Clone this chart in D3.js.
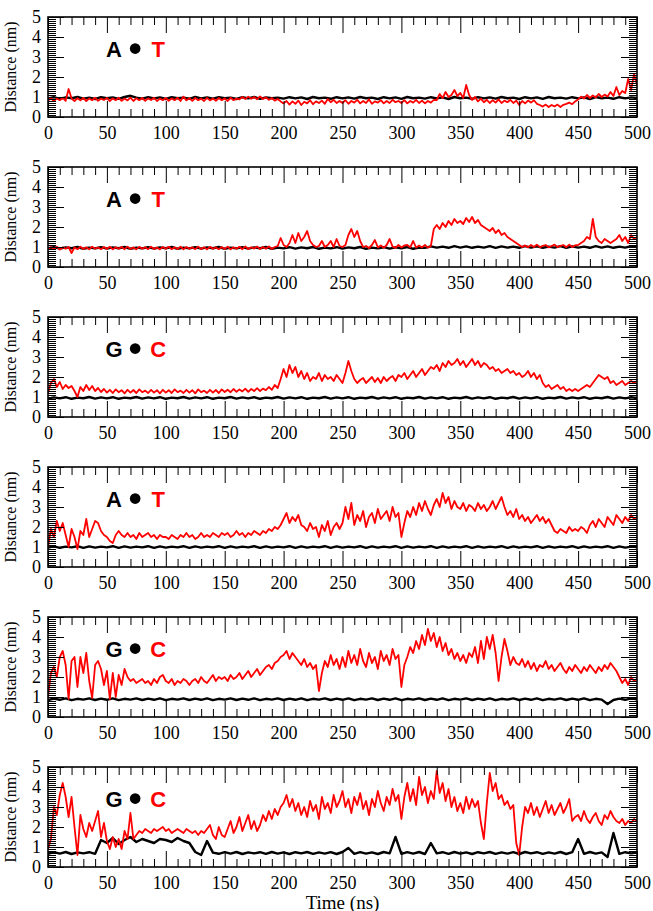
<!DOCTYPE html>
<html>
<head>
<meta charset="utf-8">
<script src="https://cdn.jsdelivr.net/npm/d3@7"></script>
<style>
  html, body { margin: 0; padding: 0; background: #fff; }
  svg { display: block; }
  .tick line { stroke: #000; stroke-width: 1; }
</style>
</head>
<body>
<svg id="chart" width="653" height="911"></svg>
<script>
// sampling steps (ns) for the two traces
const redStep = 2.5;
const blackStep = 5;

const xTicks = [0, 50, 100, 150, 200, 250, 300, 350, 400, 450, 500];
const yTicks = [0, 1, 2, 3, 4, 5];
const leftBases = ['A', 'A', 'G', 'A', 'G', 'G'];
const rightBases = ['T', 'T', 'C', 'T', 'C', 'C'];

// panel 1
const p1Black = [
  0.93,0.99,0.91,0.98,0.94,1.0,0.92,0.97,0.9,0.99,
  0.94,0.98,0.91,1.0,1.06,0.97,0.92,0.99,0.93,0.98,
  0.9,0.99,0.94,0.97,0.91,1.0,0.93,0.98,0.92,0.99,
  0.94,0.97,0.9,0.99,0.93,1.0,0.91,0.98,0.94,0.97,
  0.92,0.99,0.93,0.98,0.9,1.0,0.94,0.97,0.91,0.99,
  0.93,0.98,0.92,1.0,0.94,0.97,0.9,0.99,0.93,0.98,
  0.91,1.0,0.94,0.97,0.92,0.99,0.93,0.98,0.9,1.0,
  0.94,0.97,0.91,0.99,0.93,0.98,0.92,1.0,0.94,0.97,
  0.9,0.99,0.93,0.98,0.91,1.0,0.94,0.97,0.92,0.99,
  0.93,0.98,0.9,1.0,0.94,0.97,0.91,0.99,0.93,0.98,
  0.95];
const p1Red = [
  0.82,0.95,0.8,0.93,0.84,0.96,0.81,1.4,0.92,0.8,0.94,0.83,0.95,0.8,0.93,0.84,0.96,0.81,0.92,0.85,
  0.95,0.8,0.93,0.84,0.96,0.81,0.92,0.83,0.97,0.8,0.94,0.84,0.95,0.81,0.93,0.85,0.96,0.8,0.92,0.84,
  0.95,0.81,0.93,0.84,0.96,0.8,1.02,0.83,0.94,0.81,0.95,0.84,0.92,0.8,0.96,0.83,0.93,0.81,0.95,0.84,
  0.93,0.8,0.96,0.84,0.92,0.88,1.0,0.9,1.02,0.91,1.0,0.89,1.03,0.9,0.98,0.86,0.95,0.82,0.9,0.78,
  0.68,0.8,0.62,0.78,0.66,0.82,0.6,0.76,0.68,0.84,0.64,0.78,0.7,0.82,0.66,0.9,0.74,0.86,0.7,0.8,
  0.7,0.84,0.66,0.8,0.72,0.86,0.68,0.8,0.7,0.88,0.66,0.78,0.72,0.84,0.68,0.8,0.7,0.86,0.74,0.8,
  0.7,0.84,0.68,0.8,0.72,0.86,0.7,0.82,0.68,0.8,0.72,0.86,0.85,1.15,0.95,1.25,1.0,1.1,1.35,1.05,
  1.2,0.95,1.6,1.1,0.85,1.0,0.78,0.92,0.74,0.86,0.7,0.84,0.72,0.88,0.7,0.82,0.74,0.86,0.7,0.82,
  0.6,0.8,0.68,0.82,0.72,0.84,0.66,0.6,0.52,0.62,0.5,0.6,0.53,0.62,0.5,0.61,0.66,0.72,0.64,0.78,
  0.88,1.02,0.92,1.1,0.95,1.08,0.98,1.15,1.0,1.12,1.02,1.25,1.05,1.5,1.1,1.3,1.2,1.9,1.35,2.15,
  1.6];

// panel 2
const p2Black = [
  0.93,0.99,0.92,0.98,0.94,1.0,0.91,0.97,0.93,0.99,
  0.92,0.98,0.94,1.0,0.91,0.97,0.93,0.99,0.92,0.98,
  0.94,1.0,0.91,0.97,0.93,0.99,0.92,0.98,0.94,1.0,
  0.91,0.97,0.93,0.99,0.92,0.98,0.94,1.0,0.91,0.97,
  0.93,0.99,0.92,0.98,0.94,1.0,0.91,0.97,0.93,0.99,
  0.92,0.98,0.94,1.0,0.91,0.97,0.93,0.99,0.92,0.98,
  0.94,1.0,0.91,0.97,0.96,1.03,0.97,1.02,0.96,1.04,
  0.97,1.03,0.96,1.02,0.97,1.04,0.96,1.03,0.97,1.02,
  0.96,1.04,0.97,1.03,0.96,1.02,0.97,1.04,0.96,1.03,
  0.97,1.02,0.96,1.04,0.97,1.03,0.96,1.02,0.97,1.04,
  1.0];
const p2Red = [
  0.88,1.0,0.9,1.02,0.87,0.98,0.91,1.0,0.7,0.98,0.89,1.01,0.9,0.99,0.88,1.02,0.91,0.98,0.89,1.0,
  0.9,1.02,0.88,0.99,0.91,1.0,0.89,1.02,0.9,0.98,0.88,1.01,0.91,0.99,0.89,1.02,0.9,0.98,0.88,1.0,
  0.91,1.01,0.89,0.99,0.9,1.02,0.88,1.0,0.91,0.98,0.89,1.02,0.9,0.99,0.88,1.01,0.91,0.98,0.89,1.0,
  0.9,1.02,0.88,0.99,0.91,1.01,0.89,1.03,0.9,0.99,0.92,1.02,0.9,1.0,0.91,1.03,0.9,1.0,1.05,1.45,
  1.1,1.0,1.2,1.6,1.2,1.7,1.3,1.5,1.8,1.3,1.1,1.0,1.05,1.3,1.0,1.1,1.3,1.0,1.4,1.05,
  1.0,1.1,1.6,1.9,1.5,1.8,1.3,1.0,1.05,0.95,1.1,1.35,0.98,1.08,0.96,1.1,1.4,1.02,0.96,1.1,
  0.98,1.08,1.1,0.98,1.3,0.97,1.08,0.98,1.1,0.97,1.05,1.9,2.1,1.9,2.2,2.0,2.3,2.1,2.4,2.2,
  2.3,2.15,2.45,2.25,2.5,2.2,2.35,2.1,2.0,1.9,1.8,1.95,1.7,1.85,1.6,1.7,1.5,1.4,1.3,1.2,
  1.1,1.0,1.08,0.98,1.1,1.0,1.12,0.99,1.06,1.1,0.98,1.05,1.12,1.0,1.06,1.1,0.99,1.12,1.0,1.08,
  1.1,1.2,1.3,1.5,1.4,2.4,1.5,1.3,1.2,1.4,1.3,1.2,1.3,1.4,1.6,1.3,1.5,1.2,1.6,1.4,
  1.5];

// panel 3
const p3Black = [
  0.92,0.98,0.93,0.99,0.91,0.97,0.94,1.0,0.92,0.98,
  0.93,0.99,0.91,0.97,0.94,1.0,0.92,0.98,0.93,0.99,
  0.91,0.97,0.94,1.0,0.92,0.98,0.93,0.99,0.91,0.97,
  0.94,1.0,0.92,0.98,0.93,0.99,0.91,0.97,0.94,1.0,
  0.92,0.98,0.93,0.99,0.91,0.97,0.94,1.0,0.92,0.98,
  0.93,0.99,0.91,0.97,0.94,1.0,0.92,0.98,0.93,0.99,
  0.91,0.97,0.94,1.0,0.92,0.98,0.93,0.99,0.91,0.97,
  0.94,1.0,0.92,0.98,0.93,0.99,0.91,0.97,0.94,1.0,
  0.92,0.98,0.93,0.99,0.91,0.97,0.94,1.0,0.92,0.98,
  0.93,0.99,0.91,0.97,0.94,1.0,0.92,0.98,0.93,0.99,
  0.95];
const p3Red = [
  1.2,1.7,1.9,1.5,1.75,1.4,1.6,1.45,1.55,1.3,1.0,1.5,1.3,1.6,1.35,1.55,1.3,1.45,1.25,1.4,
  1.22,1.36,1.2,1.38,1.24,1.34,1.18,1.36,1.22,1.35,1.2,1.38,1.24,1.32,1.2,1.36,1.22,1.34,1.18,1.36,
  1.22,1.34,1.2,1.38,1.24,1.32,1.2,1.36,1.22,1.34,1.18,1.38,1.24,1.32,1.2,1.36,1.22,1.35,1.2,1.38,
  1.25,1.36,1.24,1.4,1.26,1.38,1.28,1.42,1.26,1.4,1.3,1.44,1.3,1.42,1.34,1.5,1.36,1.6,1.45,1.9,
  2.4,2.0,2.6,2.2,2.5,2.0,2.3,1.9,2.2,1.8,2.0,1.9,2.2,1.8,2.1,1.9,2.0,1.8,2.1,1.9,
  1.7,2.2,2.8,2.3,1.9,1.7,1.85,1.95,1.7,1.85,2.0,1.75,1.95,1.7,2.0,1.8,1.95,2.05,1.8,2.1,
  2.0,2.2,1.9,2.1,2.3,2.0,2.2,2.4,2.1,2.3,2.5,2.4,2.6,2.3,2.7,2.5,2.8,2.6,2.7,2.9,
  2.6,2.8,2.5,2.7,2.9,2.6,2.8,2.5,2.7,2.6,2.4,2.5,2.3,2.4,2.2,2.3,2.4,2.2,2.3,2.1,
  2.2,2.0,2.1,2.3,2.0,2.2,1.9,2.1,1.7,1.5,1.6,1.4,1.5,1.6,1.4,1.5,1.3,1.4,1.3,1.4,
  1.3,1.4,1.5,1.6,1.5,1.7,1.9,2.1,2.0,1.9,2.0,1.7,1.8,1.6,1.7,1.8,1.6,1.7,1.8,1.7,
  1.8];

// panel 4
const p4Black = [
  0.97,1.03,0.96,1.02,0.98,1.04,0.96,1.03,0.97,1.02,
  0.98,1.04,0.96,1.03,0.97,1.02,0.98,1.04,0.96,1.03,
  0.97,1.02,0.98,1.04,0.96,1.03,0.97,1.02,0.98,1.04,
  0.96,1.03,0.97,1.02,0.98,1.04,0.96,1.03,0.97,1.02,
  0.98,1.04,0.96,1.03,0.97,1.02,0.98,1.04,0.96,1.03,
  0.97,1.02,0.98,1.04,0.96,1.03,0.97,1.02,0.98,1.04,
  0.96,1.03,0.97,1.02,0.98,1.04,0.96,1.03,0.97,1.02,
  0.98,1.04,0.96,1.03,0.97,1.02,0.98,1.04,0.96,1.03,
  0.97,1.02,0.98,1.04,0.96,1.03,0.97,1.02,0.98,1.04,
  0.96,1.03,0.97,1.02,0.98,1.04,0.96,1.03,0.97,1.02,
  1.0];
const p4Red = [
  1.0,1.9,1.5,2.3,1.8,2.2,1.6,1.0,1.9,1.5,0.9,1.8,1.6,2.4,1.5,1.9,2.3,2.2,1.8,1.6,
  1.5,1.3,1.2,1.6,1.8,1.6,1.5,1.7,1.5,1.6,1.4,1.7,1.5,1.6,1.7,1.5,1.6,1.4,1.6,1.5,
  1.5,1.4,1.6,1.5,1.4,1.6,1.5,1.7,1.5,1.6,1.4,1.5,1.7,1.5,1.6,1.5,1.7,1.6,1.5,1.7,
  1.6,1.7,1.5,1.6,1.8,1.6,1.7,1.5,1.7,1.6,1.8,1.7,1.6,1.8,1.7,1.9,1.8,2.0,1.9,2.1,
  2.4,2.7,2.2,2.5,2.3,2.6,2.1,2.0,1.8,2.2,1.9,2.0,1.5,2.1,1.8,2.3,1.6,2.0,2.2,1.9,
  2.2,3.0,2.4,3.2,2.1,2.6,2.3,2.8,2.0,2.5,2.7,2.2,2.9,2.4,2.6,2.8,2.3,3.0,2.5,2.7,
  1.5,2.2,2.8,2.5,3.0,2.6,3.2,2.8,3.3,2.9,2.6,3.1,3.4,3.0,3.7,3.2,3.5,2.9,3.3,3.0,
  2.9,3.2,2.8,3.1,3.0,2.8,3.2,2.9,3.1,2.8,3.0,3.3,2.9,3.2,3.5,3.0,2.6,2.8,2.5,2.9,
  2.4,2.6,2.3,2.5,2.2,2.4,2.6,2.3,2.5,2.2,2.4,2.1,1.8,1.7,1.9,1.8,1.7,2.0,1.8,1.9,
  1.8,2.0,1.9,1.7,2.1,2.3,2.0,2.4,2.2,2.0,2.5,2.3,2.1,2.6,2.4,2.2,2.5,2.3,2.6,2.4,
  2.5];

// panel 5
const p5Black = [
  0.85,0.92,0.86,0.93,0.84,0.91,0.87,0.93,0.85,0.92,
  0.86,0.93,0.84,0.91,0.87,0.93,0.85,0.92,0.86,0.93,
  0.84,0.91,0.87,0.93,0.85,0.92,0.86,0.93,0.84,0.91,
  0.87,0.93,0.85,0.92,0.86,0.93,0.84,0.91,0.87,0.93,
  0.85,0.92,0.86,0.93,0.84,0.91,0.87,0.93,0.85,0.92,
  0.86,0.93,0.84,0.91,0.87,0.93,0.85,0.92,0.86,0.93,
  0.84,0.91,0.87,0.93,0.85,0.92,0.86,0.93,0.84,0.91,
  0.87,0.93,0.85,0.92,0.86,0.93,0.84,0.91,0.87,0.93,
  0.85,0.92,0.86,0.93,0.84,0.91,0.87,0.93,0.85,0.92,
  0.86,0.93,0.84,0.91,0.87,0.65,0.85,0.92,0.86,0.93,
  0.88];
const p5Red = [
  1.0,2.2,2.5,2.0,3.0,3.3,2.6,0.9,2.8,3.0,1.5,3.0,2.2,3.2,1.8,0.95,2.6,2.8,2.4,1.6,
  2.3,0.9,2.2,1.0,2.1,1.6,2.4,2.0,1.8,1.9,1.7,1.8,1.9,1.7,1.8,1.6,1.9,1.7,2.0,2.1,
  1.8,1.7,1.9,1.6,1.8,1.7,1.9,1.8,1.6,1.8,1.9,1.7,2.0,1.8,1.7,1.9,2.1,1.8,2.0,1.9,
  2.0,1.8,2.1,1.9,2.0,2.2,1.9,2.1,2.3,2.0,2.2,2.4,2.1,2.3,2.5,2.6,2.4,2.7,2.8,3.0,
  3.1,3.3,2.9,3.2,3.0,2.8,2.6,2.9,2.5,2.7,2.4,2.6,1.3,2.2,2.8,2.5,3.1,2.6,2.9,2.4,
  3.0,2.5,3.3,2.7,3.1,2.6,3.4,2.8,2.5,3.2,2.7,3.0,2.4,3.3,2.8,3.1,2.6,3.4,2.9,3.1,
  1.5,2.6,3.0,3.5,3.2,3.8,3.4,4.1,3.6,4.4,3.8,4.2,3.5,4.0,3.3,3.7,3.1,3.4,2.9,3.2,
  2.8,3.1,2.7,3.2,3.0,3.5,2.7,3.8,2.9,4.0,3.4,4.1,3.2,1.8,3.0,3.9,3.3,2.6,3.0,2.7,
  2.6,2.9,2.5,2.8,2.4,2.7,2.3,2.6,2.5,2.8,2.4,2.6,2.3,2.5,2.7,2.4,2.2,2.5,2.3,2.6,
  2.4,2.2,2.5,2.3,2.6,2.4,2.2,2.5,2.3,2.6,2.4,2.7,2.5,2.3,2.0,1.7,1.9,1.6,2.0,1.8,
  1.9];

// panel 6
const p6Black = [
  0.66,0.74,0.67,0.75,0.65,0.73,0.68,0.74,0.66,1.35,
  1.2,1.45,1.15,1.35,1.5,1.25,1.4,1.3,1.2,1.4,
  1.35,1.25,1.45,1.3,1.2,0.75,0.6,1.3,0.72,0.66,
  0.74,0.67,0.75,0.65,0.73,0.68,0.74,0.66,0.75,0.67,
  0.73,0.65,0.74,0.68,0.75,0.66,0.73,0.67,0.74,0.65,
  0.75,0.95,0.66,0.74,0.67,0.73,0.65,0.75,0.68,1.5,
  0.66,0.74,0.67,0.75,0.65,1.2,0.68,0.74,0.66,0.75,
  0.67,0.73,0.65,0.74,0.68,0.75,0.66,0.73,0.67,0.74,
  0.65,0.75,0.68,0.74,0.66,0.73,0.67,0.75,0.65,0.74,
  1.4,0.66,0.75,0.67,0.73,0.5,1.7,0.66,0.74,0.68,
  0.72];
const p6Red = [
  0.9,1.4,3.0,2.6,3.6,4.2,3.5,2.5,3.5,2.0,0.6,2.6,1.9,1.5,2.2,1.8,2.3,2.8,1.5,2.2,
  1.3,0.9,1.5,1.0,1.4,0.9,1.8,1.4,2.7,1.4,1.6,1.8,1.7,1.9,1.8,1.7,1.9,1.8,1.9,2.0,
  1.8,1.9,1.7,1.8,1.9,1.8,1.7,1.9,1.8,1.7,1.8,1.6,1.8,1.7,1.9,2.1,1.6,1.4,2.0,1.6,
  1.5,1.9,2.3,1.7,2.0,2.5,1.8,2.2,2.6,1.9,2.3,1.8,2.1,2.6,2.3,2.8,2.4,2.9,2.6,3.0,
  3.2,3.6,3.0,3.4,2.8,3.2,2.6,3.0,2.5,3.3,2.8,3.1,2.4,3.5,2.9,3.2,2.7,3.6,3.0,3.3,
  3.8,3.0,3.4,2.7,3.5,3.1,3.7,2.9,3.3,2.6,3.4,3.0,3.8,3.2,2.8,3.5,3.1,3.9,3.3,3.6,
  2.4,3.5,4.2,3.3,3.9,3.1,4.5,3.6,4.0,3.2,3.8,3.4,4.8,3.7,4.2,3.3,3.9,3.0,3.5,2.8,
  3.2,2.7,3.5,2.9,3.4,3.0,3.3,2.2,1.4,3.2,4.7,3.8,4.2,3.4,3.6,3.1,3.3,2.9,3.1,1.2,
  0.6,2.0,3.0,2.7,3.2,2.6,3.0,2.5,2.9,3.3,2.7,3.1,2.6,2.9,3.2,2.7,3.0,3.4,2.3,2.5,
  2.6,2.3,2.8,2.4,2.2,2.5,2.7,2.3,2.1,2.6,2.4,2.8,2.5,2.3,2.2,2.4,2.1,2.3,2.2,2.4,
  2.3];

const blackSeries = [p1Black, p2Black, p3Black, p4Black, p5Black, p6Black];
const redSeries = [p1Red, p2Red, p3Red, p4Red, p5Red, p6Red];

const svg = d3.select('#chart');
const serif = '"Liberation Serif", "Times New Roman", serif';
const margin = { left: 48, top: 17 };
const plotWidth = 589;
const plotHeight = 100;
const panelGap = 150;

const x = d3.scaleLinear().domain([0, 500]).range([0, plotWidth]);
const y = d3.scaleLinear().domain([0, 5]).range([plotHeight, 0]);

const xMinor = d3.range(0, 501, 10).filter((v) => v % 50 !== 0);
const yMinor = d3.range(1, 50).filter((v) => v % 10 !== 0).map((v) => v / 10);

svg.append('defs').append('clipPath').attr('id', 'plotClip')
  .append('rect').attr('width', plotWidth).attr('height', plotHeight);

function drawPanel(i) {
  const g = svg.append('g')
    .attr('transform', `translate(${margin.left}, ${margin.top + i * panelGap})`);

  const line = (step) => d3.line()
    .x((d, k) => x(k * step))
    .y((d) => y(d));

  const plot = g.append('g').attr('clip-path', 'url(#plotClip)');
  plot.append('path')
    .datum(blackSeries[i])
    .attr('fill', 'none')
    .attr('stroke', '#000')
    .attr('stroke-width', 2.4)
    .attr('stroke-linejoin', 'round')
    .attr('d', line(blackStep));
  plot.append('path')
    .datum(redSeries[i])
    .attr('fill', 'none')
    .attr('stroke', '#ff0000')
    .attr('stroke-width', 1.8)
    .attr('stroke-linejoin', 'round')
    .attr('d', line(redStep));

  // inward ticks on all four sides, majors labelled left and bottom
  const axes = [
    g.append('g').attr('transform', `translate(0, ${plotHeight})`)
      .call(d3.axisBottom(x).tickValues(xTicks).tickSize(-16).tickPadding(9).tickFormat(d3.format('d'))),
    g.append('g').attr('transform', `translate(0, ${plotHeight})`)
      .call(d3.axisBottom(x).tickValues(xMinor).tickSize(-8).tickFormat('')),
    g.append('g')
      .call(d3.axisTop(x).tickValues(xTicks).tickSize(-16).tickFormat('')),
    g.append('g')
      .call(d3.axisTop(x).tickValues(xMinor).tickSize(-8).tickFormat('')),
    g.append('g')
      .call(d3.axisLeft(y).tickValues(yTicks).tickSize(-16).tickPadding(7).tickFormat(d3.format('d'))),
    g.append('g')
      .call(d3.axisLeft(y).tickValues(yMinor).tickSize(-8).tickFormat('')),
    g.append('g').attr('transform', `translate(${plotWidth}, 0)`)
      .call(d3.axisRight(y).tickValues(yTicks).tickSize(-16).tickFormat('')),
    g.append('g').attr('transform', `translate(${plotWidth}, 0)`)
      .call(d3.axisRight(y).tickValues(yMinor).tickSize(-8).tickFormat('')),
  ];
  axes.forEach((a) => {
    a.attr('font-family', serif).attr('font-size', 18);
    a.select('.domain').remove();
    a.selectAll('.tick text').attr('fill', '#000');
  });

  g.append('rect')
    .attr('width', plotWidth)
    .attr('height', plotHeight)
    .attr('fill', 'none')
    .attr('stroke', '#000')
    .attr('stroke-width', 1.6);

  g.append('text')
    .attr('transform', `translate(-32, ${plotHeight / 2}) rotate(-90)`)
    .attr('text-anchor', 'middle')
    .attr('font-family', serif)
    .attr('font-size', 16)
    .text('Distance (nm)');

  // base pair label
  const labelFont = '"Liberation Sans", Arial, sans-serif';
  g.append('text')
    .attr('x', x(56)).attr('y', y(3.4)).attr('dy', '0.36em')
    .attr('text-anchor', 'middle')
    .attr('font-family', labelFont).attr('font-weight', 'bold').attr('font-size', 22)
    .attr('fill', '#000')
    .text(leftBases[i]);
  g.append('circle')
    .attr('cx', x(74)).attr('cy', y(3.42)).attr('r', 5.3)
    .attr('fill', '#000');
  g.append('text')
    .attr('x', x(93.5)).attr('y', y(3.4)).attr('dy', '0.36em')
    .attr('text-anchor', 'middle')
    .attr('font-family', labelFont).attr('font-weight', 'bold').attr('font-size', 22)
    .attr('fill', '#ff0000')
    .text(rightBases[i]);
}

d3.range(6).forEach(drawPanel);

svg.append('text')
  .attr('x', margin.left + plotWidth / 2)
  .attr('y', 908.5)
  .attr('text-anchor', 'middle')
  .attr('font-family', serif)
  .attr('font-size', 19)
  .text('Time (ns)');
</script>
</body>
</html>
